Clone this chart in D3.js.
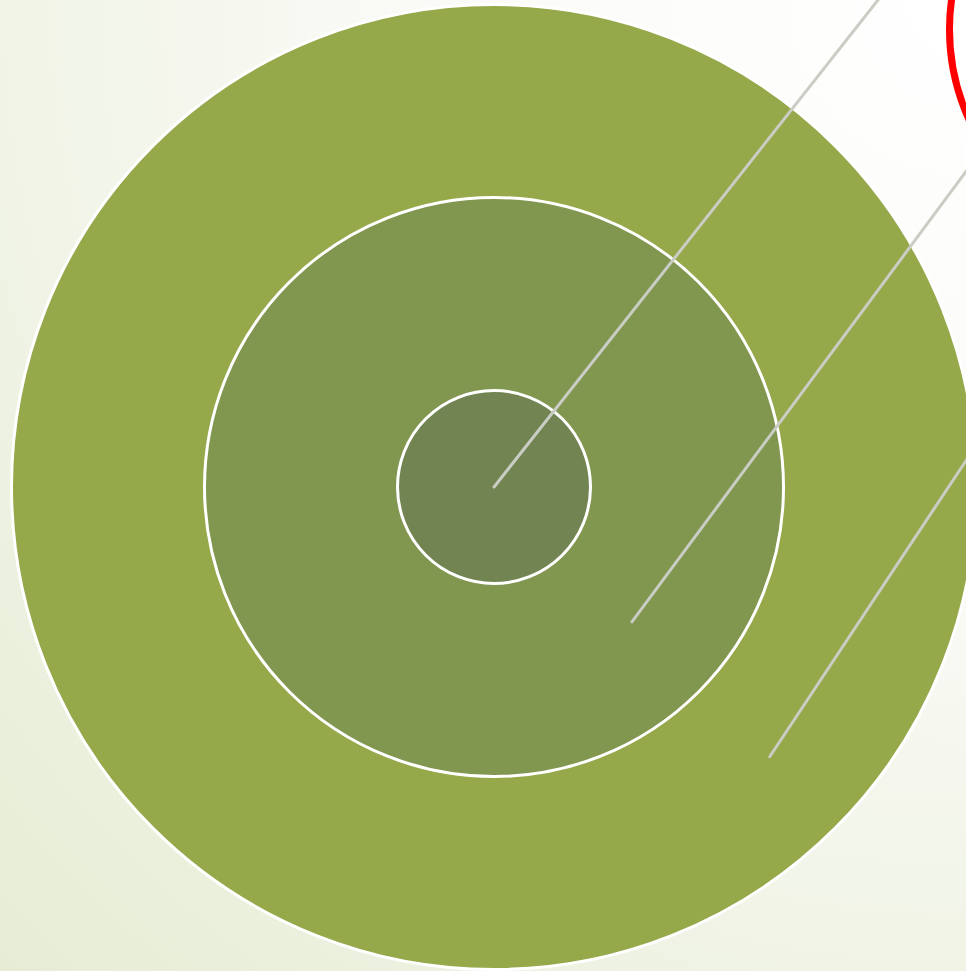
<!DOCTYPE html>
<html><head><meta charset="utf-8">
<script src="https://cdn.jsdelivr.net/npm/d3@7"></script>
<style>html,body{margin:0;padding:0;overflow:hidden;background:#fff}</style>
</head><body>
<script>
// Rings (outer to inner), size in units
const ringNames = ["Outer", "Middle", "Inner"];
const ringValues = [5, 3, 1];
const ringColors = ["#95a94b", "#81964f", "#718452"];
// Leader lines: start and end in ring units (x right, y down)
const leaderStart = [[0, 0], [1.429, 1.398], [2.857, 2.795]];
const leaderEnd = [[4.40, -5.58], [5.30, -3.82], [5.30, -0.89]];
// Highlight circle (red) in ring units
const highlight = {cx: 6.97, cy: -4.74, r: 2.25};

const W = 966, H = 971;
const svg = d3.select("body").append("svg").attr("width", W).attr("height", H);
const defs = svg.append("defs");
const grad = defs.append("radialGradient").attr("id", "bg")
  .attr("gradientUnits", "userSpaceOnUse")
  .attr("cx", W).attr("cy", 0).attr("r", 1380);
grad.append("stop").attr("offset", "0%").attr("stop-color", "#ffffff");
grad.append("stop").attr("offset", "40%").attr("stop-color", "#fafbf7");
grad.append("stop").attr("offset", "100%").attr("stop-color", "#e6ecd4");
svg.append("rect").attr("width", W).attr("height", H).attr("fill", "url(#bg)");

const cx = 494, cy = 487;
const unit = 96.5;
const x = d3.scaleLinear().domain([0, 1]).range([cx, cx + unit]);
const y = d3.scaleLinear().domain([0, 1]).range([cy, cy + unit]);
const r = d3.scaleLinear().domain([0, 1]).range([0, unit]);

svg.selectAll("circle.ring").data(ringValues).join("circle")
  .attr("class", "ring")
  .attr("cx", x(0)).attr("cy", y(0))
  .attr("r", d => r(d))
  .attr("fill", (d, i) => ringColors[i])
  .attr("stroke", "#ffffff").attr("stroke-width", 3);

svg.selectAll("line.leader").data(leaderStart).join("line")
  .attr("class", "leader")
  .attr("x1", d => x(d[0])).attr("y1", d => y(d[1]))
  .attr("x2", (d, i) => x(leaderEnd[i][0])).attr("y2", (d, i) => y(leaderEnd[i][1]))
  .attr("stroke", "#c9cdc3").attr("stroke-width", 3).attr("stroke-linecap", "round");

svg.append("circle")
  .attr("cx", x(highlight.cx)).attr("cy", y(highlight.cy)).attr("r", r(highlight.r))
  .attr("fill", "none").attr("stroke", "#ff0000").attr("stroke-width", 7);
</script>
</body></html>
